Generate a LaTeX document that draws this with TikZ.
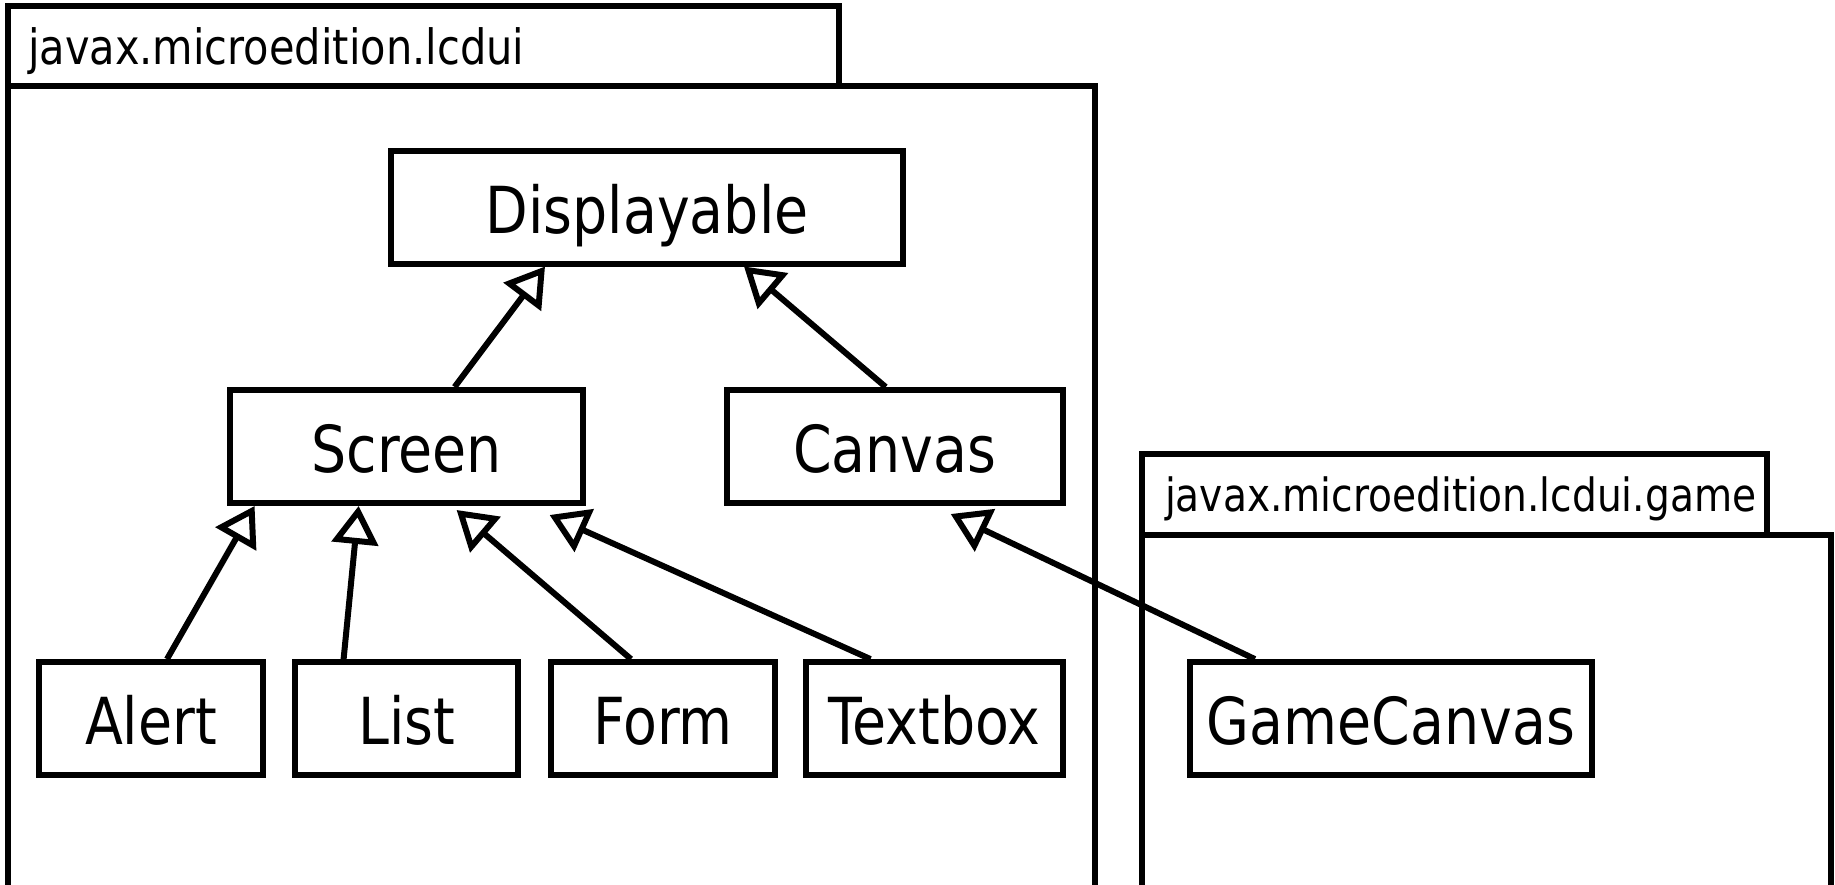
\documentclass[tikz,border=0pt]{standalone}
\usepackage{fontspec}
\setmainfont{DejaVu Sans}[FakeStretch=0.855]
\usetikzlibrary{arrows.meta,calc}

\begin{document}
\begin{tikzpicture}[x = .5pt, y = -.5pt,
  cls/.style = {draw, line width = 3pt, minimum height = 56.5pt, inner sep = 0pt, text height = 26pt, text depth = 0pt, font = \fontsize{32.4}{36}\selectfont},
  tab/.style = {draw, line width = 3pt, anchor = north west, outer sep = 0pt, inner ysep = 0pt, text depth = 0pt, align = left},
  inherit/.style = {line width = 3pt, -{Triangle[open, length = 19pt, width = 23pt]}}]
\clip (0,0) rectangle (1835,884);
% packages
\node[tab, minimum height = 39.75pt, inner xsep = 10pt, text width = 395.4pt, font = \fontsize{24.3}{28}\selectfont] (lcdui) at (8,6) {javax.microedition.lcdui};
\draw[line width = 3pt] (lcdui.south west) rectangle (1095,1000);
\node[tab, minimum height = 40.4pt, inner xsep = 11.5pt, text width = 289.5pt, font = \fontsize{22.9}{27}\selectfont] (game) at (1142,454) {javax.microedition.lcdui.game};
\draw[line width = 3pt] (game.south west) rectangle (1831,1000);
% classes
\node[cls, minimum width = 256.3pt] (displayable) at (647,207) {Displayable};
\node[cls, minimum width = 176.2pt] (screen) at (406.6,446.5) {Screen};
\node[cls, minimum width = 167.9pt] (canvas) at (894.7,446.5) {Canvas};
\node[cls, minimum width = 112.4pt] (alert) at (151,718.6) {Alert};
\node[cls, minimum width = 111.8pt] (list) at (406.6,718.6) {List};
\node[cls, minimum width = 111.8pt] (form) at (663,718.6) {Form};
\node[cls, minimum width = 128.2pt] (textbox) at (934.5,718.6) {Textbox};
\node[cls, minimum width = 200.7pt] (gamecanvas) at (1390.9,718.6) {GameCanvas};
% generalisations
\draw[inherit] ($(screen.north)+(48,0)$) -- ($(displayable.south)+(-102,0)$);
\draw[inherit] ($(canvas.north)+(-9,0)$) -- ($(displayable.south)+(97,0)$);
\draw[inherit] ($(alert.north)+(16,0)$) -- ($(screen.south)+(-152,0)$);
\draw[inherit] ($(list.north)+(-63,0)$) -- ($(screen.south)+(-48,0)$);
\draw[inherit] ($(form.north)+(-32,0)$) -- ($(screen.south)+(50,4)$);
\draw[inherit] ($(textbox.north)+(-64,0)$) -- ($(screen.south)+(143,9)$);
\draw[inherit] ($(gamecanvas.north)+(-136,0)$) -- ($(canvas.south)+(56,8)$);
\end{tikzpicture}
\end{document}
